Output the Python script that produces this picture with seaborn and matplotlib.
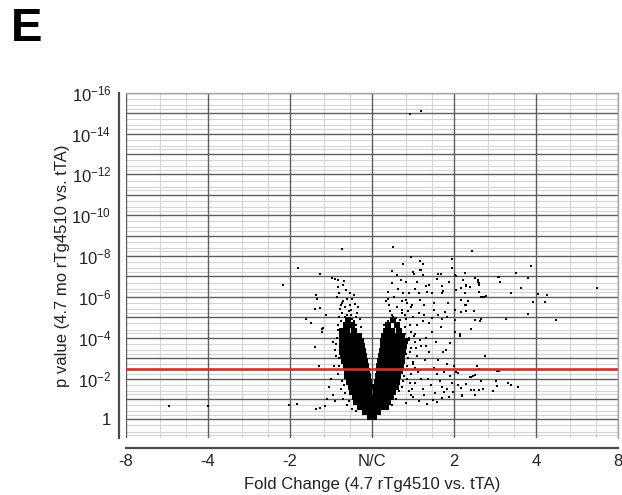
import numpy as np
import pandas as pd
import matplotlib
matplotlib.use("Agg")
import matplotlib.pyplot as plt
import seaborn as sns

# ---------------- data (log2 fold change, -log10 p) ----------------
x_tick_pos = [-3, -2, -1, 0, 1, 2, 3]
x_tick_labels = ["-8", "-4", "-2", "N/C", "2", "4", "8"]
y_label_decades = [0, 2, 4, 6, 8, 10, 12, 14, 16]
threshold_nlp = 2.47

# dense core of the volcano, per row of -log10 p
core_rows = [0.10, 0.35, 0.60, 0.85, 1.10, 1.35, 1.60, 1.85, 2.10, 2.35,
             2.60, 2.85, 3.10, 3.35, 3.60, 3.85, 4.10, 4.35, 4.60, 4.85]
core_lfc_rows = [
    [-0.03, 0.00, 0.03],
    [-0.09, -0.05, -0.01, 0.03, 0.07],
    [-0.15, -0.10, -0.05, -0.01, 0.03, 0.08, 0.13, 0.17],
    [-0.19, -0.14, -0.09, -0.04, 0.04, 0.09, 0.14, 0.19],
    [-0.21, -0.16, -0.11, -0.06, -0.02, 0.04, 0.09, 0.14, 0.19, 0.23],
    [-0.24, -0.19, -0.14, -0.09, -0.04, 0.05, 0.10, 0.15, 0.20, 0.25],
    [-0.26, -0.21, -0.16, -0.11, -0.06, -0.03, 0.05, 0.10, 0.15, 0.20, 0.25, 0.29],
    [-0.28, -0.23, -0.18, -0.13, -0.08, -0.04, 0.06, 0.11, 0.16, 0.21, 0.26, 0.31],
    [-0.30, -0.25, -0.20, -0.15, -0.10, -0.05, 0.07, 0.12, 0.17, 0.22, 0.27, 0.32],
    [-0.31, -0.26, -0.21, -0.16, -0.11, -0.06, 0.08, 0.13, 0.18, 0.23, 0.28, 0.34],
    [-0.32, -0.27, -0.22, -0.17, -0.12, -0.07, 0.09, 0.14, 0.19, 0.24, 0.29, 0.35],
    [-0.34, -0.29, -0.24, -0.19, -0.14, -0.09, 0.10, 0.15, 0.20, 0.25, 0.30, 0.36],
    [-0.35, -0.30, -0.25, -0.20, -0.15, -0.10, 0.11, 0.16, 0.21, 0.26, 0.31, 0.37],
    [-0.36, -0.31, -0.26, -0.21, -0.16, -0.11, 0.12, 0.17, 0.22, 0.27, 0.32, 0.38],
    [-0.37, -0.32, -0.27, -0.22, -0.17, -0.12, 0.13, 0.18, 0.23, 0.28, 0.33, 0.39],
    [-0.37, -0.32, -0.27, -0.22, -0.17, -0.13, 0.14, 0.19, 0.24, 0.29, 0.34, 0.40],
    [-0.36, -0.31, -0.26, -0.21, -0.16, 0.15, 0.20, 0.25, 0.30, 0.36],
    [-0.36, -0.30, -0.22, 0.17, 0.24, 0.33],
    [-0.32, -0.24, 0.20, 0.30],
    [-0.29, 0.26],
]

# genes on the ragged edges of the core
fringe_lfc = [
    -0.38, -0.33, -0.28, -0.36, -0.24, -0.31, -0.20, -0.27, -0.39, -0.30,
    -0.17, -0.22, -0.40, -0.13, -0.35, -0.26, -0.34, -0.19, -0.37, -0.29,
    -0.40, -0.42, -0.38, -0.35, -0.30, -0.25, -0.43, -0.45, -0.40, -0.37,
    -0.33, -0.41, -0.20, -0.28, -0.44, -0.39, -0.34,
    0.20, 0.26, 0.33, 0.41, 0.22, 0.30, 0.37, 0.27, 0.45, 0.52,
    0.19, 0.32, 0.40, 0.15, 0.48, 0.24, 0.36, 0.29, 0.43, 0.21,
    0.42, 0.44, 0.41, 0.38, 0.33, 0.29, 0.24, 0.20, 0.47, 0.39, 0.36,
    0.46, 0.50, 0.43, 0.49, 0.54, 0.45, 0.51, 0.56, 0.48, 0.53,
]
fringe_nlp = [
    4.80, 5.00, 5.30, 5.20, 4.90, 4.60, 4.60, 5.60, 5.40, 5.90,
    5.50, 6.10, 6.20, 4.50, 6.60, 5.10, 4.70, 5.00, 5.70, 4.95,
    3.00, 2.20, 1.50, 1.00, 0.70, 0.50, 4.00, 3.40, 2.60, 1.90,
    1.30, 4.40, 0.40, 0.90, 3.70, 3.20, 1.70,
    4.80, 5.00, 4.70, 4.90, 5.30, 5.50, 5.80, 6.00, 6.20, 6.40,
    5.90, 6.40, 4.50, 4.60, 5.50, 5.10, 5.20, 4.95, 5.70, 5.60,
    3.70, 3.00, 2.40, 1.90, 1.40, 1.00, 0.70, 0.50, 4.30, 2.10, 1.60,
    3.30, 2.70, 2.00, 1.50, 3.50, 4.00, 4.10, 2.30, 1.20, 3.80,
]

# scattered genes outside the core (log2 FC, -log10 p)
scatter_lfc = [
    -2.47, -2.00, -1.08, -0.90, -0.36, -0.64, -0.49, -0.45, -0.42, -0.34,
    -0.68, -0.67, -0.70, -0.64, -0.81, -0.75, -0.56, -0.61, -0.41, -0.32,
    -0.27, -0.43, -0.35, -0.38, -0.21, -0.26, -0.70, -0.65, -1.01, -0.91,
    -0.68, -0.63, -0.57, -0.60, -0.61,
    -0.47, -0.50, -0.44, -0.52, -0.46, -0.42, -0.48, -0.55, -0.45, -0.40,
    -0.30, -0.25, -0.18, -0.15, -0.22, -0.33, -0.28,
    0.46, 0.60, 0.25, 0.47, 0.38, 0.50, 0.59, 0.62, 0.60, 0.24,
    1.22, 0.97, 1.94, 0.97, 1.76, 1.55, 1.56, 1.90, 1.82, 1.70,
    2.02, 2.14, 2.74, 1.96, 2.11, 1.90, 1.63, 2.24, 1.38, 1.52,
    1.55, 1.28, 1.31, 1.66, 1.70, 1.78, 1.52, 1.47, 1.31, 1.35,
    1.25, 1.21, 1.10, 0.67, 1.21, 1.25, 1.17, 1.13, 1.21, 1.07,
    1.01, 1.11, 1.15, 1.19, 1.29, 1.31, 1.33, 1.36, 1.24, 1.32,
    1.15, 1.09, 0.84, 0.85, 1.01, 1.02, 1.13,
    1.51, 1.33, 1.24, 1.09, 1.10, 1.05, 1.15, 1.19, 1.23, 1.03,
    1.05, 0.95, 0.87, 1.07, 1.01, 0.85, 0.94, 0.88, 0.99, 0.74, 0.79,
    0.30, 0.51, 0.59, 0.62, 0.81, 0.79, 1.25, 1.29, 1.31, 0.24,
    0.20, 0.17, 0.35, 0.42, 0.38, 0.55, 0.66, 0.70, 0.57, 0.67,
    0.73, 0.85, 0.86, 0.94, 1.03, 1.09, 1.15, 1.13, 1.31, 1.35,
    1.39, 1.54, 0.93, 1.01, 1.09, 1.15, 1.25, 1.33, 0.89, 0.92,
    0.85, 0.75, 0.76, 0.73, 0.81, 0.42, 0.49, 0.59, 0.63, 0.57,
    0.63, 0.36, 0.40, 0.34,
    0.45, 0.52, 0.48, 0.55, 0.60, 0.50, 0.58, 0.65, 0.70, 0.47,
    0.53, 0.62, 0.68, 0.75, 0.80, 0.72, 0.77, 0.83, 0.88, 0.92,
    0.45, 0.50, 0.57, 0.63, 0.41, 0.66, 0.73, 0.78, 0.84, 0.90,
    0.55, 0.62, 0.70, 0.46, 0.50, 0.44, 0.95, 0.98, 0.85, 0.79,
    0.92, 1.00, 0.66, 0.58, 0.52, 0.60, 0.43, 0.42, 0.46, 0.40,
]
scatter_nlp = [
    0.65, 0.65, 6.58, 7.40, 8.33, 7.14, 6.94, 6.88, 6.83, 6.80,
    6.08, 5.88, 5.39, 5.46, 4.93, 4.74, 5.11, 4.43, 6.50, 6.34,
    6.18, 5.98, 5.81, 5.60, 5.65, 5.36, 3.56, 2.63, 0.70, 0.73,
    0.49, 0.54, 0.67, 4.46, 4.29,
    1.20, 2.00, 3.10, 1.60, 2.60, 4.60, 3.80, 1.00, 0.90, 5.00,
    5.10, 5.90, 5.20, 4.90, 4.80, 5.50, 4.70,
    14.97, 15.10, 8.46, 7.97, 7.61, 7.20, 7.76, 7.61, 7.32, 7.28,
    8.25, 7.86, 7.51, 7.40, 7.16, 6.96, 6.75, 6.91, 6.45, 6.18,
    6.14, 6.09, 6.42, 5.73, 5.76, 5.16, 4.90, 4.87, 3.12, 2.37,
    2.37, 2.61, 2.45, 1.76, 1.68, 1.57, 1.65, 1.40, 1.44, 1.47,
    1.21, 1.44, 1.19, 0.75, 2.09, 2.17, 5.80, 5.60, 4.41, 4.18,
    4.87, 6.83, 6.58, 6.50, 6.83, 6.67, 5.98, 5.98, 5.32, 4.83,
    5.31, 5.27, 7.11, 6.18, 7.07, 7.02, 7.16,
    1.89, 1.88, 1.44, 1.52, 1.14, 1.68, 1.73, 2.06, 2.12, 2.33,
    2.28, 3.73, 3.31, 4.08, 4.29, 1.03, 1.08, 1.35, 1.35, 0.95, 0.86,
    7.07, 7.10, 7.30, 7.07, 7.10, 6.86, 6.90, 6.75, 6.58, 6.67,
    6.25, 5.81, 6.83, 6.75, 6.18, 6.75, 6.53, 6.58, 6.18, 6.25,
    6.20, 6.53, 6.28, 6.75, 6.36, 6.45, 6.53, 6.20, 6.25, 6.00,
    6.04, 6.99, 5.69, 5.36, 5.85, 5.60, 4.87, 4.90, 5.27, 5.00,
    4.90, 5.69, 5.36, 4.95, 5.11, 5.85, 5.60, 5.85, 5.60, 5.23,
    5.11, 5.36, 5.11, 4.87,
    3.90, 4.20, 3.50, 3.10, 3.60, 2.80, 2.40, 2.90, 3.30, 2.20,
    1.80, 1.50, 2.00, 2.50, 2.90, 1.70, 1.30, 1.90, 2.30, 2.70,
    1.40, 1.10, 0.90, 1.20, 0.80, 4.00, 4.30, 3.80, 4.50, 3.40,
    4.60, 4.80, 4.70, 4.60, 5.00, 5.30, 2.10, 1.80, 1.60, 2.20,
    1.50, 2.60, 3.60, 3.90, 2.50, 2.00, 2.60, 3.20, 1.80, 4.20,
]

# ---------------- build tables ----------------
core_x, core_y = [], []
for yv, xs in zip(core_rows, core_lfc_rows):
    for xv in xs:
        core_x.append(xv)
        core_y.append(yv)
df_core = pd.DataFrame({"lfc": core_x, "nlp": core_y})
df_sc = pd.DataFrame({"lfc": scatter_lfc + fringe_lfc,
                      "nlp": scatter_nlp + fringe_nlp})

# ---------------- style ----------------
sns.set_style("white")
plt.rcParams["font.family"] = ["Liberation Sans", "DejaVu Sans"]
plt.rcParams["mathtext.fontset"] = "custom"
plt.rcParams["mathtext.rm"] = "Liberation Sans"
plt.rcParams["mathtext.it"] = "Liberation Sans:italic"
plt.rcParams["mathtext.bf"] = "Liberation Sans:bold"
plt.rcParams["mathtext.default"] = "regular"

fig = plt.figure(figsize=(6.22, 4.95), dpi=100)
ax = fig.add_axes([0.2026, 0.1145, 0.7910, 0.6982])

ax.set_xlim(-3, 3)
ax.set_ylim(-0.93, 16)

# ticks
ax.set_xticks(x_tick_pos)
ax.set_xticklabels(x_tick_labels)
y_major = list(range(0, 17))
ax.set_yticks(y_major)
ylabs = []
for v in y_major:
    if v in y_label_decades:
        ylabs.append("1" if v == 0 else r"$10^{-%d}$" % v)
    else:
        ylabs.append("")
ax.set_yticklabels(ylabs)

# grid lines (drawn by hand so the dark major lines sit above the minor ones)
major_col = "#5e5e5e"
minor_col = "#d4d4d4"
x_minor = []
for u in range(-3, 3):
    x_minor += [u + 0.415, u + 0.737]
y_minor = []
for n in range(-1, 16):
    for k in (2, 4, 6):
        pos = n + 1 - np.log10(k)
        if -0.93 < pos < 16:
            y_minor.append(pos)
for v in x_minor:
    ax.axvline(v, color=minor_col, linewidth=0.8, zorder=0.5)
for v in y_minor:
    ax.axhline(v, color=minor_col, linewidth=0.8, zorder=0.5)
for v in x_tick_pos:
    ax.axvline(v, color=major_col, linewidth=1.0, zorder=1)
for v in y_major:
    ax.axhline(v, color=major_col, linewidth=1.0, zorder=1)

# points
sns.scatterplot(data=df_core, x="lfc", y="nlp", s=14, color="black",
                linewidth=0, marker="s", ax=ax, zorder=3)
sns.scatterplot(data=df_sc, x="lfc", y="nlp", s=4, color="black",
                linewidth=0, marker="s", ax=ax, zorder=3)

# threshold line
ax.axhline(threshold_nlp, color="#d9302c", linewidth=1.9, zorder=4)

# spines
for s in ["top", "right"]:
    ax.spines[s].set_color("#a8a8a8")
    ax.spines[s].set_linewidth(1.0)
ax.spines["left"].set_position(("outward", 5))
ax.spines["bottom"].set_position(("outward", 7))
for s in ["left", "bottom"]:
    ax.spines[s].set_color("#4a4a4a")
    ax.spines[s].set_linewidth(1.6)

ax.tick_params(axis="y", which="major", length=2.5, width=1.0, color="#4a4a4a",
               labelsize=12, labelcolor="#222222", pad=3)
ax.tick_params(axis="x", which="major", length=3, width=1.0, direction="in",
               color="#4a4a4a", labelsize=12, labelcolor="#222222", pad=4)

ax.set_xlabel("Fold Change (4.7 rTg4510 vs. tTA)", fontsize=12,
              color="#222222", labelpad=6)
ax.set_ylabel("p value (4.7 mo rTg4510 vs. tTA)", fontsize=12,
              color="#222222", labelpad=1)

fig.text(0.018, 0.985, "E", fontsize=34, fontweight="bold", va="top",
         ha="left", color="black")

fig.savefig("out.png", dpi=100, facecolor="white")
